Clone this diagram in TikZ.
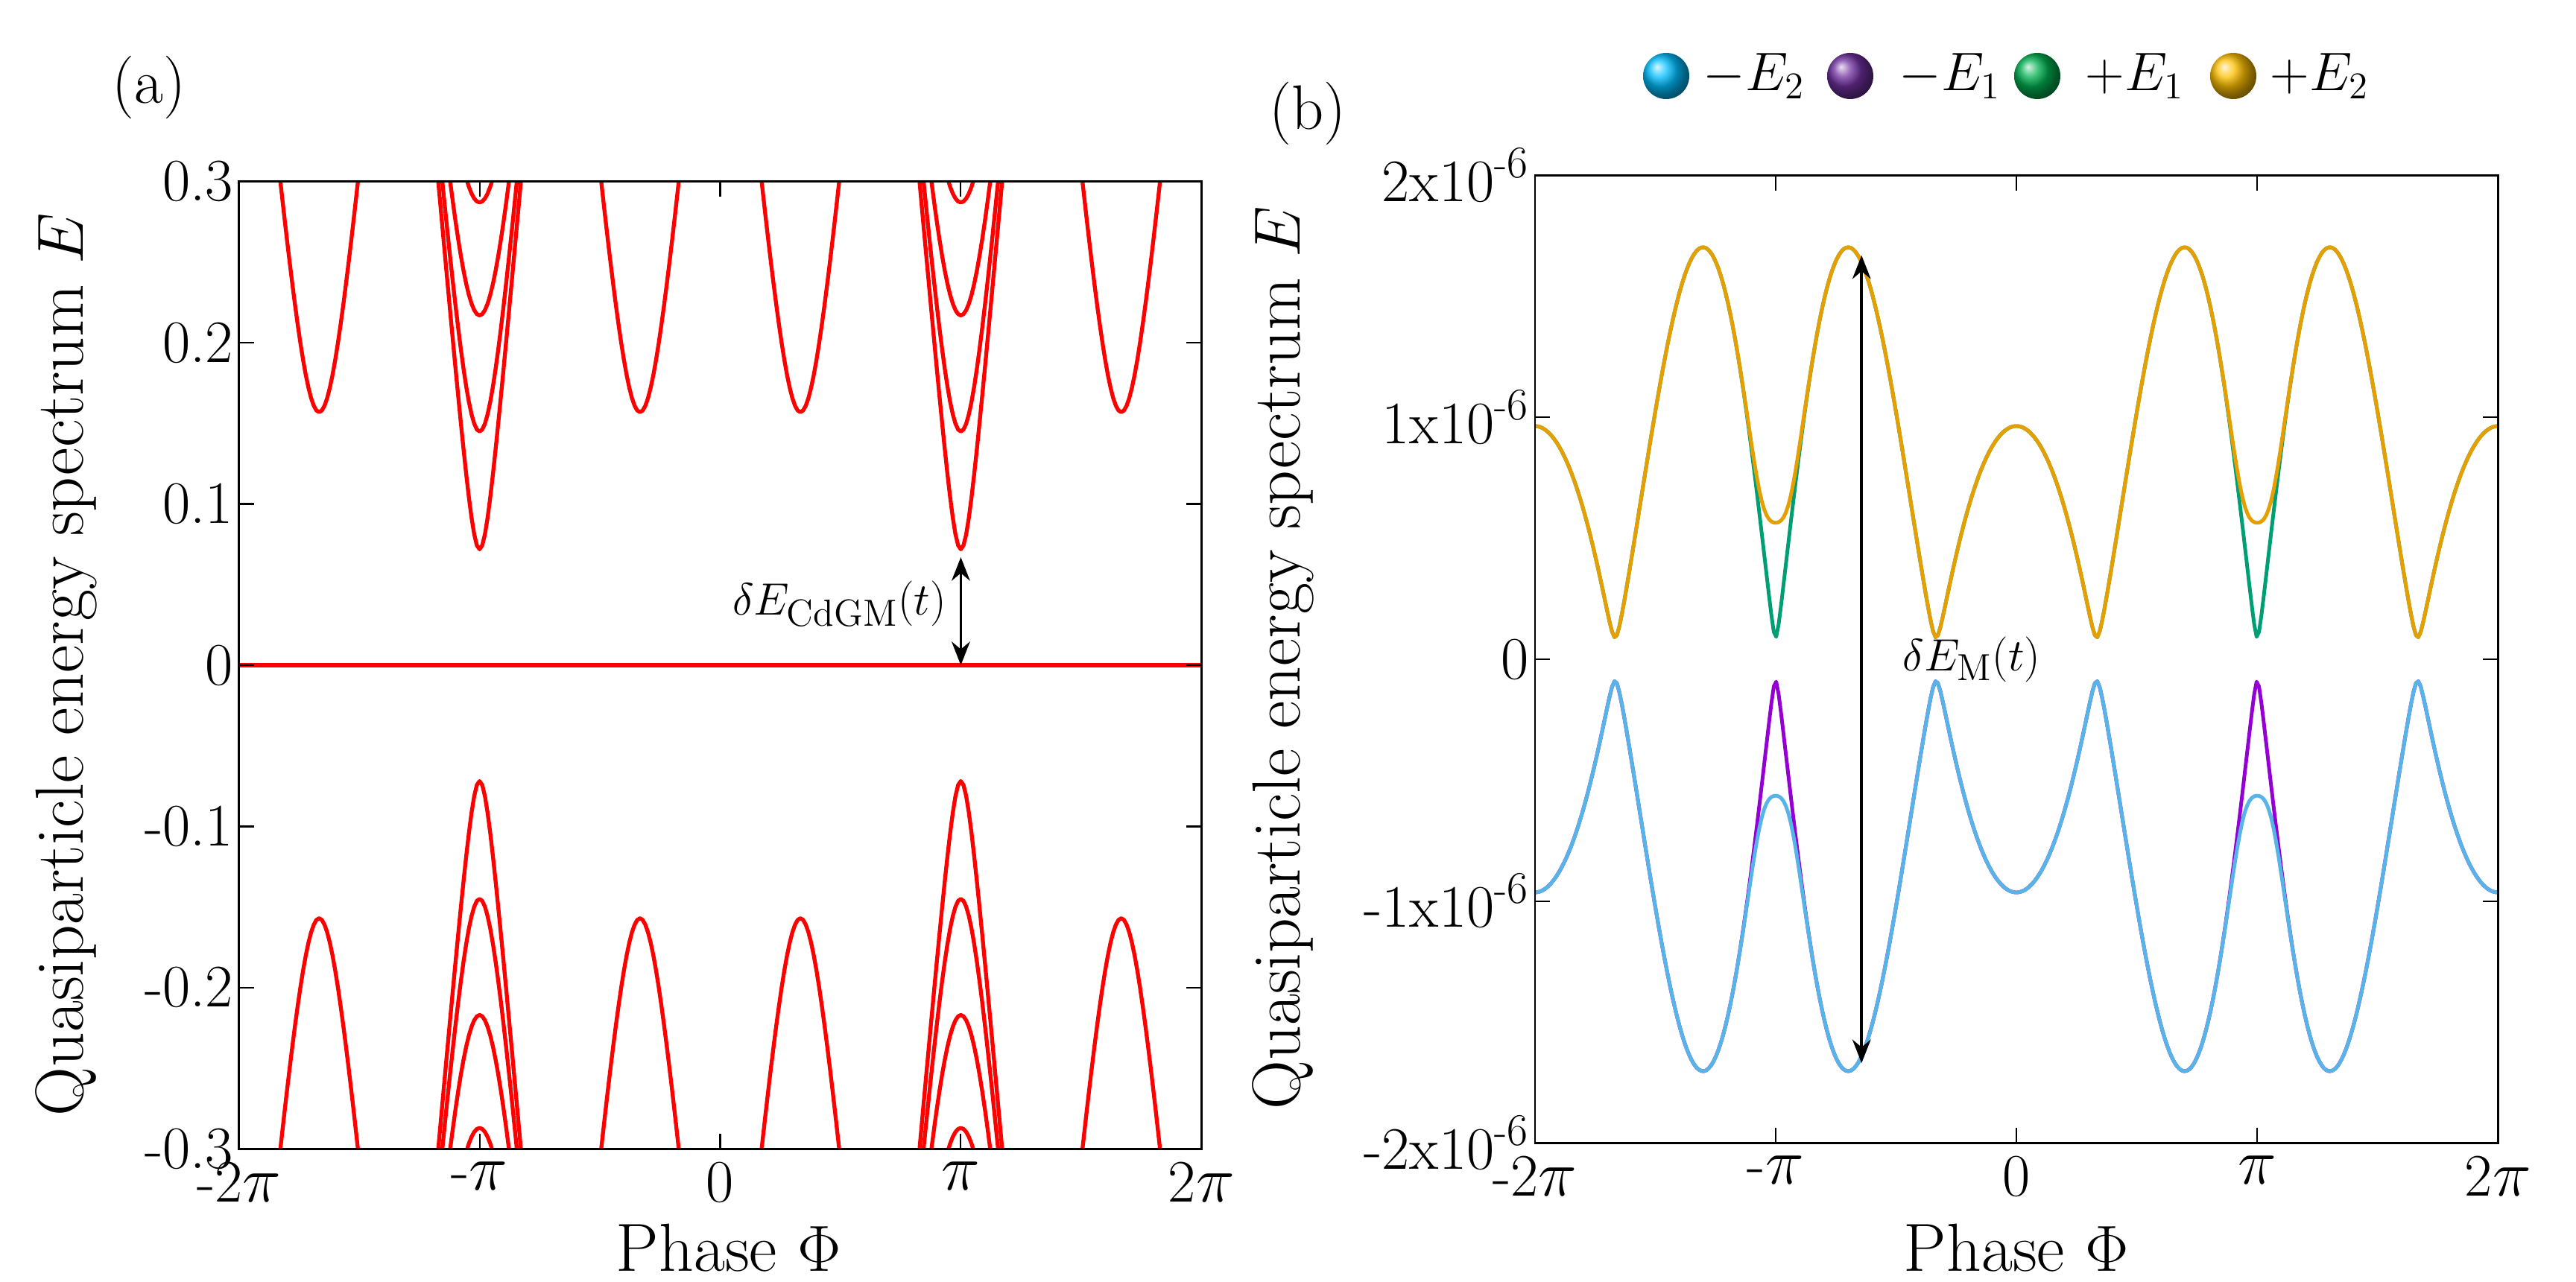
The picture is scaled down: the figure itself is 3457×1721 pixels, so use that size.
\documentclass[tikz,border=0pt]{standalone}
\usepackage{amsmath}
\usetikzlibrary{arrows.meta}

\definecolor{curvered}{RGB}{255,0,0}
\definecolor{plusone}{RGB}{0,158,115}
\definecolor{plustwo}{RGB}{230,159,0}
\definecolor{minusone}{RGB}{148,0,211}
\definecolor{minustwo}{RGB}{86,180,233}
\definecolor{ballcyan}{RGB}{0,190,255}
\definecolor{ballpurple}{RGB}{112,48,160}
\definecolor{ballgreen}{RGB}{0,176,80}
\definecolor{ballgold}{RGB}{255,192,0}

\begin{document}
\begin{tikzpicture}[x=0.01cm,y=0.01cm,
frame/.style={draw,line width=0.7pt},
tickmark/.style={line width=0.6pt},
ticklabel/.style={font=\fontsize{23}{27}\selectfont,inner sep=2pt},
axislabel/.style={font=\fontsize{26}{30}\selectfont},
curvea/.style={curvered,line width=1.5pt,line join=round},
curveb/.style={line width=1.4pt,line join=round},
gaparrow/.style={{Stealth[length=9pt,width=7pt]}-{Stealth[length=9pt,width=7pt]},line width=1.1pt},
legendtext/.style={font=\fontsize{21}{25}\selectfont,anchor=west,inner sep=0pt},
declare function={
  gb(\x)=1.44*cos(1.5*\x r)-0.24*(cos(0.5*\x r)+cos(2.5*\x r));
  eone(\x)=sqrt(gb(\x)^2+0.09^2);
  etwo(\x)=sqrt(gb(\x)^2+0.09^2+0.31*(exp(-((\x-pi)/0.22)^2)+exp(-((\x+pi)/0.22)^2)));
}]

\useasboundingbox (0,0) rectangle (3457,1721);

% panel (a)
\node[font=\fontsize{24}{28}\selectfont] (tagA) at (200,1604) {(a)};
\begin{scope}[shift={(966.5,828)},x=1.0273cm,y=21.633cm]
  \begin{scope}
    \clip (-2*pi,-0.3) rectangle (2*pi,0.3);
    \foreach \c in {-5*pi/3,-pi/3,pi/3,5*pi/3} {
      \draw[curvea] plot[domain=-0.7:0.7,samples=41,variable=\t] ({\c+\t},{sqrt(0.157^2+(0.505*\t)^2)});
      \draw[curvea] plot[domain=-0.7:0.7,samples=41,variable=\t] ({\c+\t},{-sqrt(0.157^2+(0.505*\t)^2)});
    }
    \foreach \c in {-pi,pi}
      \foreach \m in {0.072,0.145,0.217,0.287} {
        \draw[curvea] plot[domain=-0.7:0.7,samples=41,variable=\t] ({\c+\t},{sqrt(\m^2+(0.54*\t)^2)});
        \draw[curvea] plot[domain=-0.7:0.7,samples=41,variable=\t] ({\c+\t},{-sqrt(\m^2+(0.54*\t)^2)});
      }
    \draw[curvea] (-2*pi,0) -- (2*pi,0);
  \end{scope}
  \draw[frame] (-2*pi,-0.3) rectangle (2*pi,0.3);
  \foreach \v/\lab in {-0.3/-0.3,-0.2/-0.2,-0.1/-0.1,0/0,0.1/0.1,0.2/0.2,0.3/0.3} {
    \draw[tickmark] (-2*pi,\v) -- ++(0.2cm,0);
    \draw[tickmark] (2*pi,\v) -- ++(-0.2cm,0);
    \node[ticklabel,anchor=east] at (-2*pi,\v) {\lab};
  }
  \foreach \k/\lab in {-2/-2$\pi$,-1/-$\pi$,0/0,1/$\pi$,2/2$\pi$} {
    \draw[tickmark] (\k*pi,-0.3) -- ++(0,0.2cm);
    \draw[tickmark] (\k*pi,0.3) -- ++(0,-0.2cm);
    \node[ticklabel,anchor=north,yshift=-0.1cm] at (\k*pi,-0.3) {\lab};
  }
  \coordinate (gapTopA) at (pi,0.067);
  \coordinate (gapBotA) at (pi,0);
  \draw[gaparrow] (gapTopA) -- (gapBotA);
  \node[font=\fontsize{19}{23}\selectfont,anchor=east] (gapLabA) at (pi-0.07,0.038) {$\delta E_{\mathrm{CdGM}}(t)$};
\end{scope}
\node[axislabel,rotate=90] (ylabA) at (89,829) {Quasiparticle energy spectrum $E$};
\node[axislabel] (xlabA) at (978,46) {Phase $\Phi$};

% panel (b)
\node[font=\fontsize{24}{28}\selectfont] (tagB) at (1755,1569) {(b)};
\begin{scope}[shift={(2706,836)},x=1.028cm,y=3.245cm]
  \begin{scope}
    \clip (-2*pi,-2) rectangle (2*pi,2);
    \draw[curveb,plusone] plot[domain=-2*pi:2*pi,samples=400] (\x,{eone(\x)});
    \draw[curveb,plustwo] plot[domain=-2*pi:2*pi,samples=400] (\x,{etwo(\x)});
    \draw[curveb,minusone] plot[domain=-2*pi:2*pi,samples=400] (\x,{-eone(\x)});
    \draw[curveb,minustwo] plot[domain=-2*pi:2*pi,samples=400] (\x,{-etwo(\x)});
  \end{scope}
  \draw[frame] (-2*pi,-2) rectangle (2*pi,2);
  \foreach \v/\lab in {-2/-2x10$^{\text{-}6}$,-1/-1x10$^{\text{-}6}$,0/0,1/1x10$^{\text{-}6}$,2/2x10$^{\text{-}6}$} {
    \draw[tickmark] (-2*pi,\v) -- ++(0.2cm,0);
    \draw[tickmark] (2*pi,\v) -- ++(-0.2cm,0);
    \node[ticklabel,anchor=east] at (-2*pi,\v) {\lab};
  }
  \foreach \k/\lab in {-2/-2$\pi$,-1/-$\pi$,0/0,1/$\pi$,2/2$\pi$} {
    \draw[tickmark] (\k*pi,-2) -- ++(0,0.2cm);
    \draw[tickmark] (\k*pi,2) -- ++(0,-0.2cm);
    \node[ticklabel,anchor=north,yshift=-0.1cm] at (\k*pi,-2) {\lab};
  }
  \coordinate (gapTopB) at (-2.02,1.67);
  \coordinate (gapBotB) at (-2.02,-1.67);
  \draw[gaparrow] (gapTopB) -- (gapBotB);
  \node[font=\fontsize{19}{23}\selectfont,anchor=west] (gapLabB) at (-1.6,0.0) {$\delta E_{\mathrm{M}}(t)$};
\end{scope}
\node[axislabel,rotate=90] (ylabB) at (1722,838) {Quasiparticle energy spectrum $E$};
\node[axislabel] (xlabB) at (2706,46) {Phase $\Phi$};

% legend
\shade[ball color=ballcyan] (2236,1619) circle (31);
\node[legendtext] (legMinusTwo) at (2285,1619) {$-E_2$};
\shade[ball color=ballpurple] (2483,1619) circle (31);
\node[legendtext] (legMinusOne) at (2548,1619) {$-E_1$};
\shade[ball color=ballgreen] (2734,1619) circle (31);
\node[legendtext] (legPlusOne) at (2798,1619) {$+E_1$};
\shade[ball color=ballgold] (2997,1619) circle (31);
\node[legendtext] (legPlusTwo) at (3046,1619) {$+E_2$};

\end{tikzpicture}
\end{document}
